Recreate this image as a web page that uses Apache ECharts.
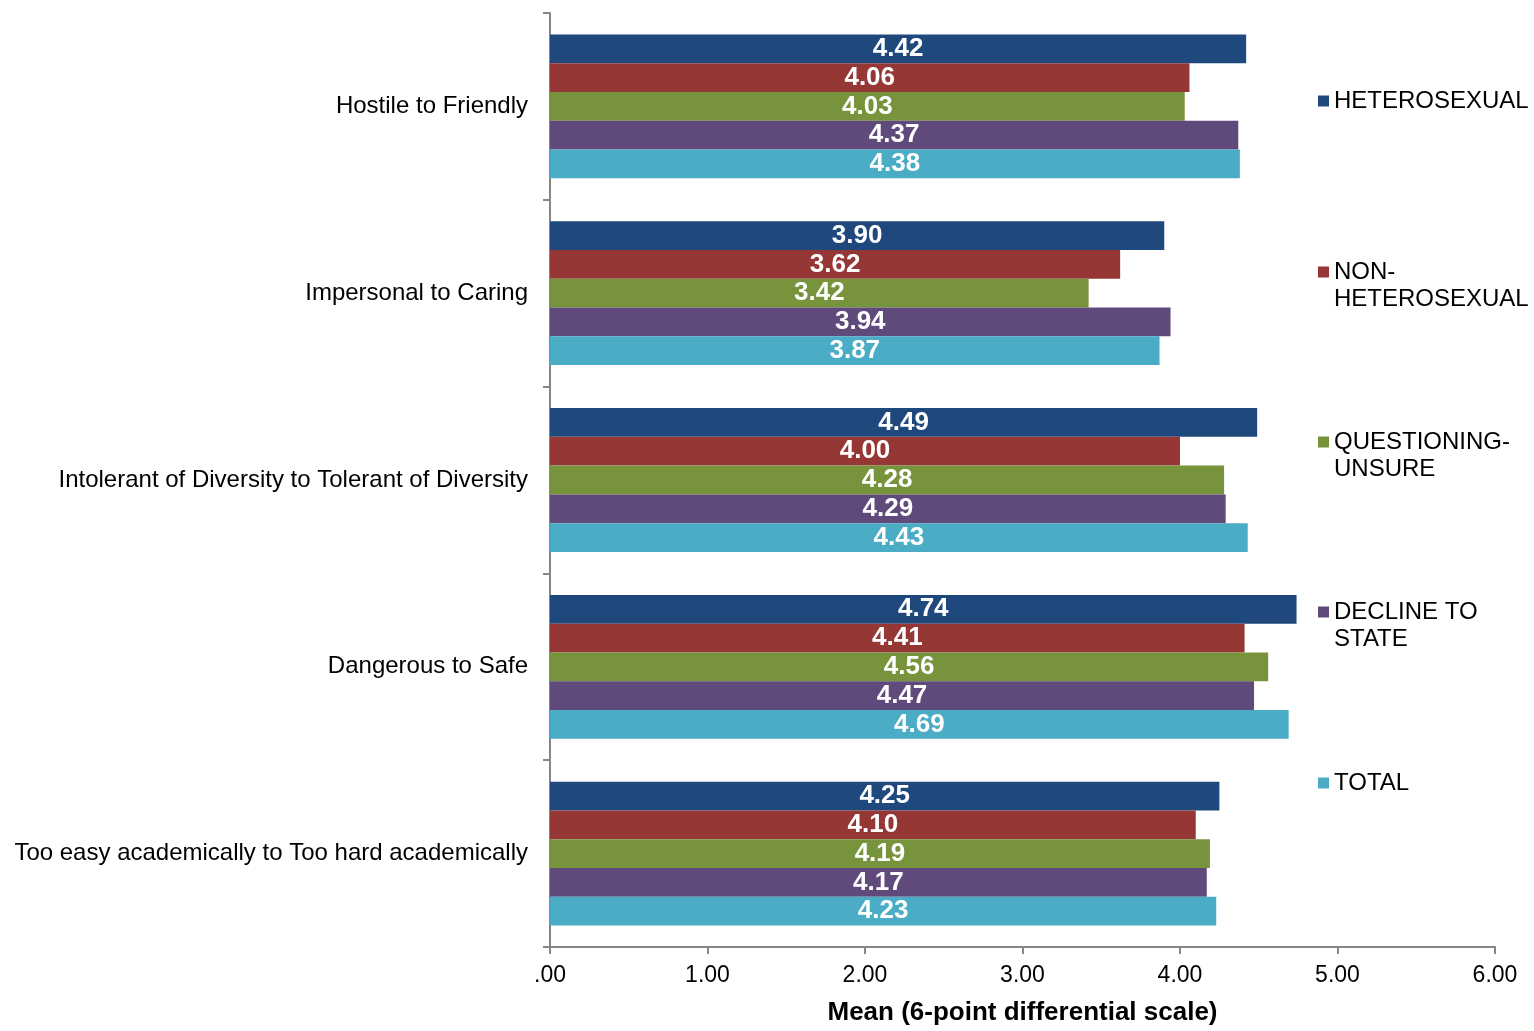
<!DOCTYPE html>
<html>
<head>
<meta charset="utf-8">
<script src="https://cdn.jsdelivr.net/npm/echarts@6/dist/echarts.min.js"></script>
<style>
html,body{margin:0;padding:0;background:#fff;}
#chart{width:1534px;height:1031px;}
</style>
</head>
<body>
<div id="chart"></div>
<script>
var categories = [
  'Hostile to Friendly',
  'Impersonal to Caring',
  'Intolerant of Diversity to Tolerant of Diversity',
  'Dangerous to Safe',
  'Too easy academically to Too hard academically'
];
var seriesNames = ['HETEROSEXUAL', 'NON-HETEROSEXUAL', 'QUESTIONING-UNSURE', 'DECLINE TO STATE', 'TOTAL'];
var legendLabels = ['HETEROSEXUAL', 'NON-\nHETEROSEXUAL', 'QUESTIONING-\nUNSURE', 'DECLINE TO\nSTATE', 'TOTAL'];
var heterosexual = [4.42, 3.90, 4.49, 4.74, 4.25];
var nonHeterosexual = [4.06, 3.62, 4.00, 4.41, 4.10];
var questioningUnsure = [4.03, 3.42, 4.28, 4.56, 4.19];
var declineToState = [4.37, 3.94, 4.29, 4.47, 4.17];
var total = [4.38, 3.87, 4.43, 4.69, 4.23];
var xTicks = [0, 1, 2, 3, 4, 5, 6];

var seriesData = [heterosexual, nonHeterosexual, questioningUnsure, declineToState, total];
var colors = ['#1F497D', '#953735', '#77933C', '#604A7B', '#4BACC6'];
var FONT = 'Liberation Sans, Arial, sans-serif';

var chart = echarts.init(document.getElementById('chart'), null, {renderer: 'canvas'});

var series = seriesNames.map(function (name, i) {
  return {
    name: name,
    type: 'bar',
    data: seriesData[i],
    barGap: '0%',
    barCategoryGap: '23%',
    itemStyle: {color: colors[i]},
    label: {
      show: true,
      position: 'inside',
      color: '#fff',
      fontFamily: FONT,
      fontWeight: 'bold',
      fontSize: 26,
      formatter: function (p) { return p.value.toFixed(2); }
    }
  };
});

// legend icon centers (px): one legend per item
var legendCenters = [101, 272, 442, 612, 783];
var legends = seriesNames.map(function (name, i) {
  var multi = legendLabels[i].indexOf('\n') >= 0;
  return {
    orient: 'vertical',
    left: 1318,
    top: multi ? legendCenters[i] - 40.5 : legendCenters[i] - 13.5,
    padding: 0,
    itemWidth: 11,
    itemHeight: 11,
    icon: 'rect',
    selectedMode: false,
    data: [name],
    formatter: function () { return multi ? '\n' + legendLabels[i] : legendLabels[i]; },
    textStyle: {fontFamily: FONT, fontSize: 24, color: '#000', lineHeight: 27}
  };
});

chart.setOption({
  animation: false,
  backgroundColor: '#fff',
  color: colors,
  legend: legends,
  grid: {left: 550, right: 39, top: 13, bottom: 79, containLabel: false},
  xAxis: {
    type: 'value',
    min: 0,
    max: 6,
    interval: 1,
    name: 'Mean (6-point differential scale)',
    nameLocation: 'middle',
    nameGap: 53,
    nameTextStyle: {fontFamily: FONT, fontSize: 26, fontWeight: 'bold', color: '#000'},
    axisLine: {show: true, lineStyle: {color: '#868686', width: 2}},
    axisTick: {show: true, length: 7, lineStyle: {color: '#868686', width: 2}},
    splitLine: {show: false},
    axisLabel: {
      margin: 17,
      fontFamily: FONT,
      fontSize: 23,
      color: '#000',
      formatter: function (v) { return v === 0 ? '.00' : v.toFixed(2); }
    }
  },
  yAxis: {
    type: 'category',
    data: categories,
    inverse: true,
    axisLine: {show: true, lineStyle: {color: '#868686', width: 2}},
    axisTick: {show: true, length: 7, lineStyle: {color: '#868686', width: 2}},
    axisLabel: {margin: 22, fontFamily: FONT, fontSize: 24, color: '#000'}
  },
  series: series
});
</script>
</body>
</html>
